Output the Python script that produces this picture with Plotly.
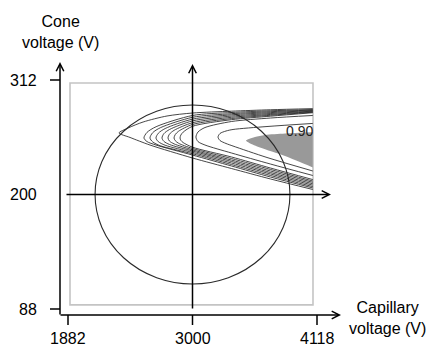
import plotly.graph_objects as go

# ---------------- data ----------------
x_ticks = [1882, 3000, 4118]          # capillary voltage (V)
y_ticks = [88, 200, 312]              # cone voltage (V)
center_point = [3000, 200]
circle_radius = [875, 87.5]           # design-space circle (x, y half-widths)
region_x = [1900, 4082]               # grey frame of the response surface
region_y = [92, 309]

# contour lines (lower branch -> vertex -> upper branch)
outer_x = [4080, 3700, 3350, 3000, 2618, 2439, 2340, 2421, 2556, 2771, 3000, 3350, 3700, 4080]
outer_y = [204.9, 215.2, 225.4, 235.7, 248.4, 255.8, 260.2, 265.0, 270.9, 276.8, 279.7, 281.5, 282.9, 284.0]

c1_x = [4080, 3700, 3350, 3000, 2672, 2591, 2564, 2591, 2673, 3000, 3350, 3700, 4080]
c1_y = [206.4, 217.1, 227.9, 238.6, 248.4, 251.8, 255.3, 260.7, 266.3, 277.3, 280.2, 281.9, 283.1]
c2_x = [4080, 3700, 3350, 3000, 2713, 2642, 2618, 2642, 2713, 3000, 3350, 3700, 4080]
c2_y = [207.7, 218.6, 229.3, 239.9, 247.6, 251.5, 255.3, 260.4, 265.4, 275.5, 279.0, 281.0, 282.6]
c3_x = [4080, 3700, 3350, 3000, 2754, 2693, 2672, 2693, 2754, 3000, 3350, 3700, 4080]
c3_y = [209.1, 220.1, 230.8, 241.2, 248.2, 251.7, 255.3, 259.9, 264.5, 273.7, 277.9, 280.1, 282.1]
c4_x = [4080, 3700, 3350, 3000, 2794, 2743, 2726, 2743, 2794, 3000, 3350, 3700, 4080]
c4_y = [210.5, 221.5, 232.3, 242.5, 248.9, 252.0, 255.3, 259.5, 263.6, 272.0, 276.7, 279.2, 281.5]
c5_x = [4080, 3700, 3350, 3000, 2835, 2793, 2780, 2793, 2835, 3000, 3350, 3700, 4080]
c5_y = [211.9, 223.0, 233.7, 243.7, 249.5, 252.3, 255.3, 259.0, 262.8, 270.2, 275.5, 278.3, 281.0]
c6_x = [4080, 3700, 3350, 3000, 2875, 2845, 2834, 2845, 2875, 3000, 3350, 3700, 4080]
c6_y = [213.2, 224.5, 235.2, 245.0, 250.1, 252.7, 255.3, 258.6, 261.9, 268.5, 274.3, 277.5, 280.5]
c7_x = [4080, 3700, 3350, 3000, 2916, 2895, 2888, 2895, 2916, 3000, 3350, 3700, 4080]
c7_y = [214.6, 225.9, 236.7, 246.3, 250.8, 253.0, 255.3, 258.1, 261.0, 266.7, 273.2, 276.6, 280.0]
c8_x = [4080, 3700, 3350, 3112, 3049, 3031, 3049, 3112, 3350, 3700, 4080]
c8_y = [218.6, 229.8, 240.6, 248.4, 251.8, 256.2, 261.1, 265.5, 271.4, 274.8, 277.3]
c9_x = [4080, 3669, 3364, 3301, 3247, 3229, 3247, 3301, 3364, 3669, 4080]
c9_y = [223.0, 236.2, 247.4, 249.9, 252.8, 256.2, 259.7, 262.1, 263.6, 266.5, 269.5]

# region where desirability >= 0.90 (grey)
top_x = [4080, 3831, 3651, 3561, 3507, 3480, 3510, 3606, 3831, 4080]
top_y = [260.8, 259.7, 258.2, 256.2, 254.3, 252.8, 250.4, 246.0, 237.7, 226.5]
top_label = "0.90"
top_label_pos = [3961, 262.1]

contours = [(outer_x, outer_y), (c1_x, c1_y), (c2_x, c2_y), (c3_x, c3_y), (c4_x, c4_y),
            (c5_x, c5_y), (c6_x, c6_y), (c7_x, c7_y), (c8_x, c8_y), (c9_x, c9_y)]

# ---------------- layout calibration ----------------
W, H = 427, 349
SX = (x_ticks[2] - x_ticks[0]) / 249.0     # V per pixel
SY = (y_ticks[2] - y_ticks[0]) / 229.0
X_LEFT_PX, Y_TOP_PX = 68, 80               # pixel of first x tick / top y tick
xr = [x_ticks[0] - X_LEFT_PX * SX, x_ticks[0] + (W - X_LEFT_PX) * SX]
yr = [y_ticks[2] - (H - Y_TOP_PX) * SY, y_ticks[2] + Y_TOP_PX * SY]

def PX(p):
    return x_ticks[0] + (p - X_LEFT_PX) * SX

def PY(p):
    return y_ticks[2] - (p - Y_TOP_PX) * SY

FONT = "Liberation Sans, Arial, sans-serif"
fig = go.Figure()

fig.add_trace(go.Scatter(x=top_x, y=top_y, mode="lines", fill="toself",
                         fillcolor="#999999", line=dict(width=0, shape="spline", smoothing=0.8),
                         hoverinfo="skip", showlegend=False))
for cx, cy in contours:
    fig.add_trace(go.Scatter(x=cx, y=cy, mode="lines",
                             line=dict(color="#262626", width=0.85, shape="spline", smoothing=0.8),
                             hoverinfo="skip", showlegend=False))

shapes = []
shapes.append(dict(type="rect", xref="x", yref="y", x0=region_x[0], x1=region_x[1],
                   y0=region_y[0], y1=region_y[1], line=dict(color="#c4c4c4", width=1.6),
                   layer="below"))
shapes.append(dict(type="circle", xref="x", yref="y",
                   x0=center_point[0] - circle_radius[0], x1=center_point[0] + circle_radius[0],
                   y0=center_point[1] - circle_radius[1], y1=center_point[1] + circle_radius[1],
                   line=dict(color="#2a2a2a", width=1.1)))
# tick marks
for t in y_ticks[::2]:
    shapes.append(dict(type="line", xref="x", yref="y", x0=PX(50), x1=PX(60), y0=t, y1=t,
                       line=dict(color="black", width=1.5)))
for t in x_ticks:
    shapes.append(dict(type="line", xref="x", yref="y", x0=t, x1=t, y0=PY(315), y1=PY(325),
                       line=dict(color="black", width=1.5)))
fig.update_layout(shapes=shapes)

ann = []
def arrow(x0, y0, x1, y1):
    ann.append(dict(x=x1, y=y1, ax=x0, ay=y0, xref="x", yref="y", axref="x", ayref="y",
                    text="", showarrow=True, arrowhead=5, arrowsize=1, arrowwidth=1.5,
                    arrowcolor="black", standoff=0, startstandoff=0))

arrow(PX(60), PY(316), PX(60), PY(62))                 # y axis
arrow(PX(59), PY(315), PX(341), PY(315))               # x axis
arrow(center_point[0], PY(310), center_point[0], PY(64))  # centre vertical
arrow(PX(65), center_point[1], PX(331), center_point[1])  # centre horizontal

for t in y_ticks:
    ann.append(dict(x=PX(39), y=t, xref="x", yref="y", text=str(t), showarrow=False,
                    xanchor="right", yanchor="middle", font=dict(size=16, color="black", family=FONT)))
for t in x_ticks:
    ann.append(dict(x=t, y=PY(338), xref="x", yref="y", text=str(t), showarrow=False,
                    xanchor="center", yanchor="middle", font=dict(size=16, color="black", family=FONT)))

ann.append(dict(x=PX(60), y=PY(32), xref="x", yref="y", text="Cone<br>voltage (V)",
                showarrow=False, xanchor="center", yanchor="middle", align="center",
                font=dict(size=16, color="black", family=FONT)))
ann.append(dict(x=PX(387), y=PY(318), xref="x", yref="y", text="Capillary<br>voltage (V)",
                showarrow=False, xanchor="center", yanchor="middle", align="center",
                font=dict(size=16, color="black", family=FONT)))
ann.append(dict(x=top_label_pos[0], y=top_label_pos[1], xref="x", yref="y", text=top_label,
                showarrow=False, xanchor="center", yanchor="middle",
                font=dict(size=14, color="#222222", family=FONT)))
fig.update_layout(annotations=ann)

fig.update_layout(width=W, height=H, margin=dict(l=0, r=0, t=0, b=0, pad=0),
                  paper_bgcolor="white", plot_bgcolor="white",
                  xaxis=dict(range=xr, visible=False, fixedrange=True),
                  yaxis=dict(range=yr, visible=False, fixedrange=True),
                  showlegend=False)
fig.write_html("out.html")
